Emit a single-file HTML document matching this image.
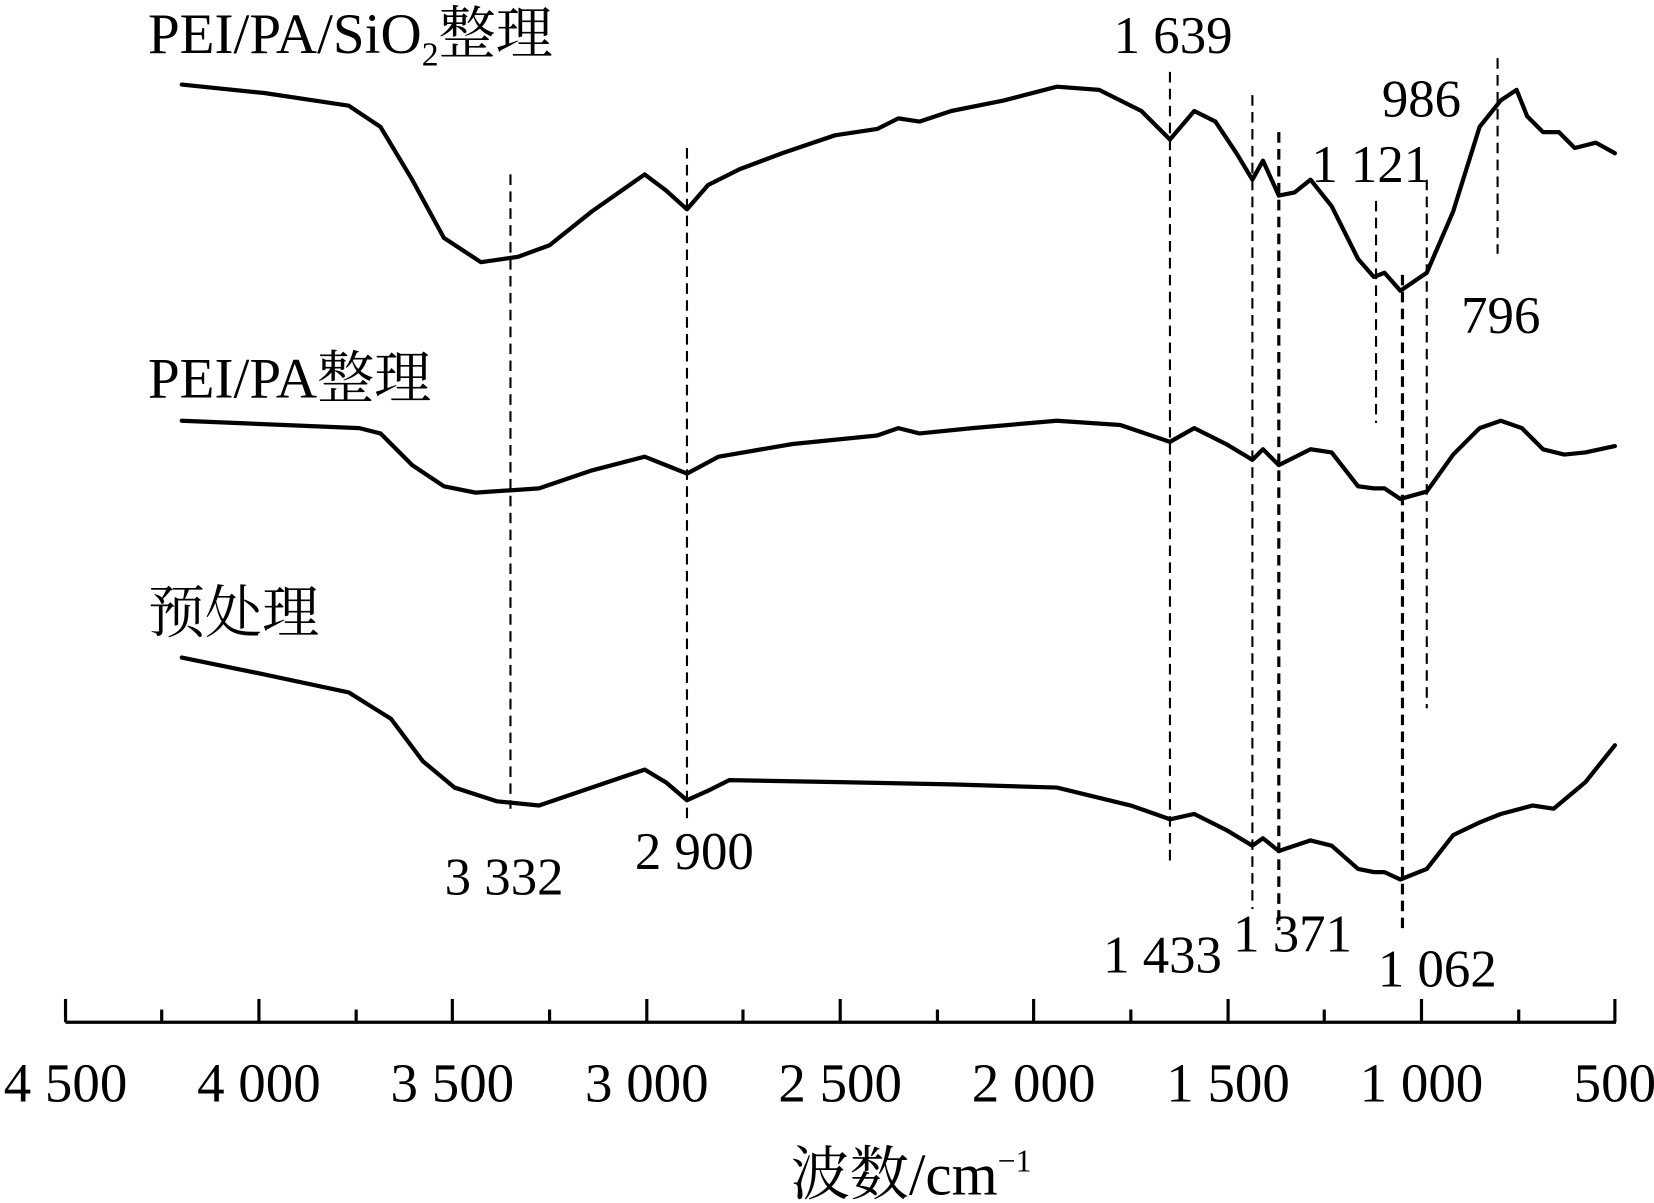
<!DOCTYPE html>
<html><head><meta charset="utf-8"><style>
html,body{margin:0;padding:0;background:#fff;}
svg{display:block;}
text{font-family:"Liberation Serif","Noto Serif CJK SC","Noto Sans CJK SC",serif;fill:#000;}
</style></head><body>
<svg width="1654" height="1203" viewBox="0 0 1565 1138" preserveAspectRatio="none" xmlns="http://www.w3.org/2000/svg">
<g fill="none" stroke="#000" stroke-width="4" stroke-linejoin="round" stroke-linecap="round">
<polyline points="172,80 250,88 330,100 360,120 390,170 420,225 455,248 490,243 520,232 560,200 610,165 630,180 650,198 670,175 700,160 740,145 790,128 830,122 850,112 870,115 900,105 950,95 1000,82 1040,85 1080,105 1107,132 1130,105 1150,115 1170,145 1185,170 1195,152 1210,185 1225,182 1240,170 1260,195 1285,245 1300,262 1310,258 1325,275 1350,258 1375,200 1400,120 1420,95 1435,85 1445,110 1460,125 1475,125 1490,140 1510,135 1528,145"/>
<polyline points="172,398 340,405 360,410 390,440 420,460 450,466 510,462 560,445 610,432 630,440 650,448 680,432 750,420 830,412 850,405 870,410 920,405 1000,398 1060,402 1107,418 1130,405 1160,420 1185,435 1195,425 1210,440 1240,425 1260,428 1285,460 1300,462 1310,462 1325,472 1350,465 1375,430 1400,405 1420,398 1440,405 1460,425 1480,430 1500,428 1528,422"/>
<polyline points="172,622 250,638 330,655 370,680 400,720 430,745 470,758 510,762 560,745 610,728 630,740 650,757 670,748 690,738 800,740 900,742 1000,745 1070,762 1107,775 1130,770 1160,785 1185,800 1195,793 1210,805 1240,795 1260,800 1285,822 1300,825 1310,825 1325,832 1350,822 1375,790 1400,778 1420,770 1450,762 1470,765 1500,740 1528,705"/>
</g>
<g stroke="#000" stroke-width="2" stroke-dasharray="10,6">
<line x1="483" y1="165" x2="483" y2="765"/>
<line x1="650" y1="140" x2="650" y2="780"/>
<line x1="1107" y1="68" x2="1107" y2="815"/>
<line x1="1185" y1="90" x2="1185" y2="860"/>
<line x1="1210" y1="125" x2="1210" y2="880" stroke-width="3"/>
<line x1="1302" y1="190" x2="1302" y2="400"/>
<line x1="1327" y1="260" x2="1327" y2="880" stroke-width="3"/>
<line x1="1350" y1="170" x2="1350" y2="670"/>
<line x1="1417" y1="55" x2="1417" y2="240"/>
</g>
<g stroke="#000" stroke-width="3">
<line x1="62" y1="967" x2="1529" y2="967"/>
<line x1="62" y1="945" x2="62" y2="967"/>
<line x1="245" y1="945" x2="245" y2="967"/>
<line x1="428" y1="945" x2="428" y2="967"/>
<line x1="612" y1="945" x2="612" y2="967"/>
<line x1="795" y1="945" x2="795" y2="967"/>
<line x1="978" y1="945" x2="978" y2="967"/>
<line x1="1162" y1="945" x2="1162" y2="967"/>
<line x1="1345" y1="945" x2="1345" y2="967"/>
<line x1="1528" y1="945" x2="1528" y2="967"/>
<line x1="153" y1="955" x2="153" y2="967"/>
<line x1="337" y1="955" x2="337" y2="967"/>
<line x1="520" y1="955" x2="520" y2="967"/>
<line x1="703" y1="955" x2="703" y2="967"/>
<line x1="887" y1="955" x2="887" y2="967"/>
<line x1="1070" y1="955" x2="1070" y2="967"/>
<line x1="1253" y1="955" x2="1253" y2="967"/>
<line x1="1437" y1="955" x2="1437" y2="967"/>
</g>
<g font-size="52" text-anchor="middle">
<text x="62" y="1042">4 500</text>
<text x="245" y="1042">4 000</text>
<text x="428" y="1042">3 500</text>
<text x="612" y="1042">3 000</text>
<text x="795" y="1042">2 500</text>
<text x="978" y="1042">2 000</text>
<text x="1162" y="1042">1 500</text>
<text x="1345" y="1042">1 000</text>
<text x="1528" y="1042">500</text>
</g>
<text x="862" y="1130" font-size="56" text-anchor="middle">波数/cm<tspan font-size="30" dy="-22">−1</tspan></text>
<g font-size="50" text-anchor="middle">
<text x="1110" y="50">1 639</text>
<text x="1345" y="110">986</text>
<text x="1297" y="172">1 121</text>
<text x="1420" y="315">796</text>
<text x="477" y="846">3 332</text>
<text x="657" y="822">2 900</text>
<text x="1100" y="920">1 433</text>
<text x="1223" y="900">1 371</text>
<text x="1360" y="933">1 062</text>
</g>
<g font-size="54">
<text x="140" y="50">PEI/PA/SiO<tspan font-size="32" dy="12">2</tspan><tspan dy="-12">整理</tspan></text>
<text x="140" y="376">PEI/PA整理</text>
<text x="140" y="598">预处理</text>
</g>
</svg>
</body></html>
